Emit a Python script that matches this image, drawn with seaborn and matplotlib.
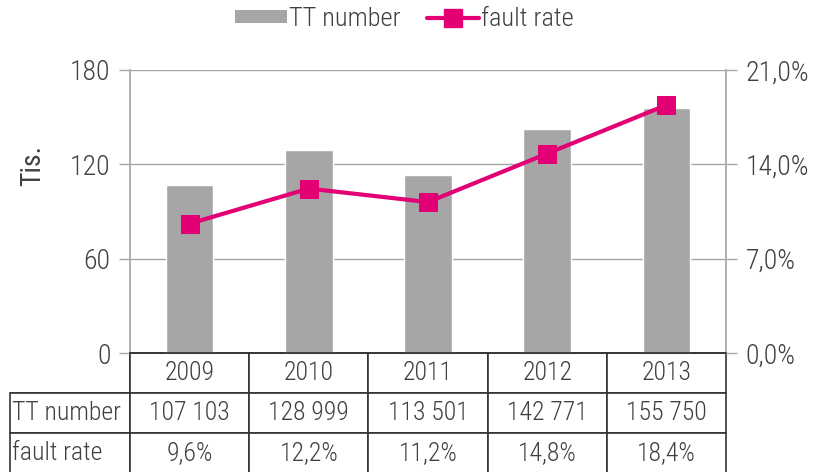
import matplotlib
matplotlib.use("Agg")
import matplotlib.pyplot as plt
import seaborn as sns
import pandas as pd
from matplotlib.lines import Line2D
from matplotlib.patches import Patch
from matplotlib import font_manager

years = ["2009", "2010", "2011", "2012", "2013"]
tt_number = [107103, 128999, 113501, 142771, 155750]
fault_rate = [9.6, 12.2, 11.2, 14.8, 18.4]
left_ticks = [0, 60, 120, 180]
right_ticks = [0.0, 7.0, 14.0, 21.0]

BAR = "#A6A6A6"
MAG = "#E20074"
TXT = "#404040"
GRID = "#A6A6A6"

sns.set_theme(style="white")
names = {f.name for f in font_manager.fontManager.ttflist}
fam = [n for n in ["Liberation Sans Narrow", "Roboto Condensed", "Roboto"] if n in names] + ["DejaVu Sans"]
plt.rcParams['font.family'] = fam
plt.rcParams['font.weight'] = 'light'
FS_TICK = 20
FS_TBL = 18.5
FS_LEG = 19

df = pd.DataFrame({"year": years, "tt": [v / 1000 for v in tt_number], "rate": fault_rate})

fig = plt.figure(figsize=(8.28, 4.72), dpi=100)
ax = fig.add_axes([130/828, 1-353/472, 596/828, 283/472])
sns.barplot(data=df, x="year", y="tt", color=BAR, width=0.4, ax=ax, saturation=1, zorder=2)
ax.set_ylim(0, 180)
ax.set_xlim(-0.5, 4.5)
ax.set_yticks(left_ticks)
ax.set_yticklabels([str(t) for t in left_ticks], fontsize=FS_TICK, color=TXT)
ax.set_xticks([])
ax.set_xlabel("")
ax.set_ylabel("Tis.", fontsize=FS_TICK, color=TXT)
ax.yaxis.set_label_coords((46-130)/596, (353-165)/283)
ax.grid(axis="y", color=GRID, lw=1, zorder=0)
for s in ["left", "right", "top"]:
    ax.spines[s].set_visible(s != "top")
    ax.spines[s].set_color(GRID)
ax.spines["bottom"].set_color("#333333")
ax.tick_params(axis="y", length=8, width=1, color=GRID, pad=6, left=True)

ax2 = ax.twinx()
sns.lineplot(x=list(range(len(years))), y=fault_rate, ax=ax2, color=MAG, lw=3,
             marker="s", markersize=13, markeredgecolor=MAG, zorder=5)
ax2.set_ylim(0, 21)
ax2.set_yticks(right_ticks)
ax2.set_yticklabels([f"{t:.1f}%".replace(".", ",") for t in right_ticks], fontsize=FS_TICK, color=TXT)
ax2.tick_params(axis="y", length=8, width=1, color=GRID, pad=6, right=True)
for s in ["left", "right", "top", "bottom"]:
    ax2.spines[s].set_visible(False)
ax2.set_xlim(-0.5, 4.5)

# data table
cell_text = [[""] + years,
             ["TT number"] + [f"{v:,}".replace(",", " ") for v in tt_number],
             ["fault rate"] + [f"{v:.1f}%".replace(".", ",") for v in fault_rate]]
lw_px = 120
tbl = ax.table(cellText=cell_text, cellLoc="center",
               colWidths=[lw_px] + [596/5]*5,
               bbox=[-lw_px/596, -120/283, 1 + lw_px/596, 120/283])
tbl.auto_set_font_size(False)
tbl.set_fontsize(FS_TBL)
for (r, c), cell in tbl.get_celld().items():
    cell.set_edgecolor("#333333")
    cell.set_linewidth(1.2)
    cell.get_text().set_color(TXT)
    cell.get_text().set_fontweight('light')
    if c == 0:
        cell.get_text().set_ha("left")
        cell.PAD = 0.02
    if r == 0 and c == 0:
        cell.visible_edges = "BR"

handles = [Patch(facecolor=BAR, edgecolor="none", label="TT number"),
           Line2D([0], [0], color=MAG, lw=3, marker="s", markersize=13, label="fault rate")]
fig.legend(handles=handles, loc="center", bbox_to_anchor=(404/828, 1-19/472), ncol=2,
           frameon=False, fontsize=FS_LEG, handlelength=2.0, handleheight=0.4, handletextpad=0.05,
           columnspacing=1.0, labelcolor=TXT)

fig.savefig("out.png", dpi=100)
